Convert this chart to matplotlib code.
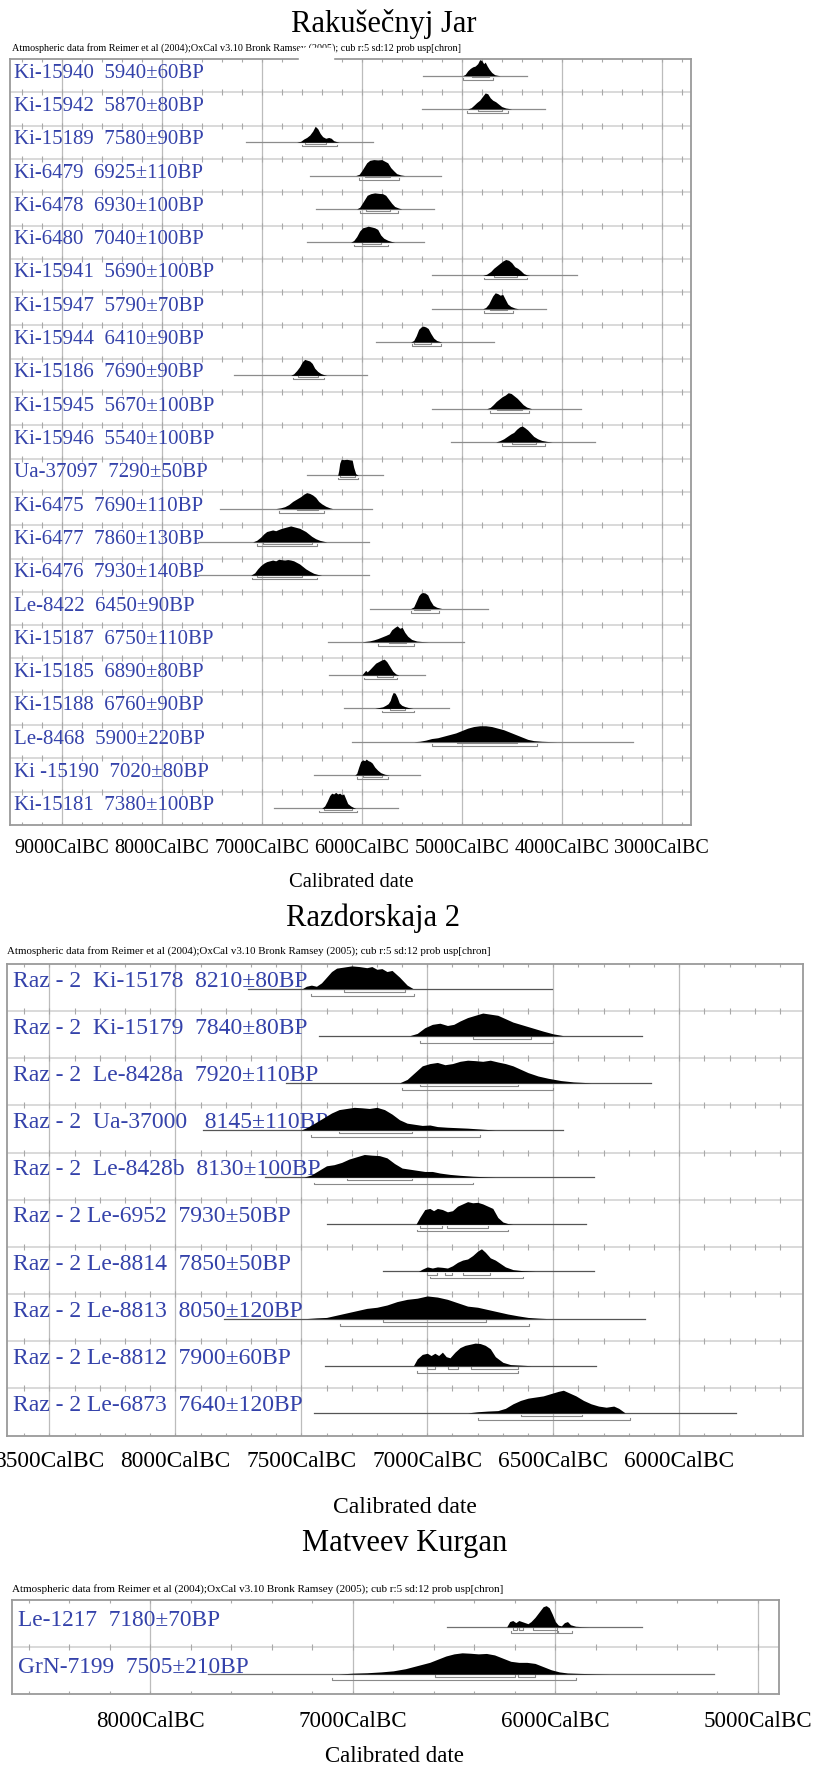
import numpy as np
import matplotlib
matplotlib.use("Agg")
import matplotlib.pyplot as plt
from matplotlib.transforms import blended_transform_factory
from matplotlib.patches import Rectangle

plt.rcParams['font.family'] = ['Liberation Serif', 'DejaVu Serif']

W, H = 816, 1767
BLUE = '#3442aa'

ATMO = ("Atmospheric data from Reimer et al (2004);OxCal v3.10 Bronk Ramsey (2005); "
        "cub r:5 sd:12 prob usp[chron]")

# ---------------- Rakusecnyj Jar ----------------
rak_labels = ["Ki-15940  5940±60BP", "Ki-15942  5870±80BP", "Ki-15189  7580±90BP",
              "Ki-6479  6925±110BP", "Ki-6478  6930±100BP", "Ki-6480  7040±100BP",
              "Ki-15941  5690±100BP", "Ki-15947  5790±70BP", "Ki-15944  6410±90BP",
              "Ki-15186  7690±90BP", "Ki-15945  5670±100BP", "Ki-15946  5540±100BP",
              "Ua-37097  7290±50BP", "Ki-6475  7690±110BP", "Ki-6477  7860±130BP",
              "Ki-6476  7930±140BP", "Le-8422  6450±90BP", "Ki-15187  6750±110BP",
              "Ki-15185  6890±80BP", "Ki-15188  6760±90BP", "Le-8468  5900±220BP",
              "Ki -15190  7020±80BP", "Ki-15181  7380±100BP"]
# calendar years BC of the grey range line
rak_range = [(5390, 4350), (5400, 4167), (7157, 5884), (6517, 5210), (6460, 5280),
             (6550, 5380), (5300, 3850), (5300, 4160), (5860, 4680), (7280, 5950),
             (5300, 3810), (5110, 3670), (6550, 5790), (7420, 5900), (7640, 5930),
             (7640, 5930), (5920, 4740), (6337, 4977), (6327, 5367), (6179, 5123),
             (6097, 3287), (6480, 5417), (6880, 5640)]
# probability outlines: (year BC, relative height)
rak_shapes = [
    [(4990, 0), (4965, .08), (4940, .3), (4915, .45), (4890, .55), (4865, .6), (4840, .75), (4820, 1), (4800, .95), (4780, .75), (4765, .85), (4745, .6), (4725, .4), (4700, .2), (4670, .06), (4640, .02), (4617, 0)],
    [(4940, 0), (4905, .08), (4875, .25), (4850, .4), (4820, .55), (4790, .8), (4765, 1), (4740, .95), (4715, .7), (4690, .55), (4660, .45), (4630, .3), (4600, .15), (4560, .06), (4500, 0)],
    [(6650, 0), (6610, .06), (6580, .2), (6550, .3), (6520, .45), (6490, .7), (6465, 1), (6440, .85), (6415, .55), (6390, .35), (6360, .25), (6330, .3), (6305, .25), (6280, .1), (6250, .04), (6224, 0)],
    [(6060, 0), (6025, .08), (6000, .3), (5975, .55), (5950, .8), (5920, .95), (5880, 1), (5840, .98), (5800, 1), (5770, .9), (5740, .8), (5710, .5), (5680, .3), (5650, .12), (5610, .04), (5570, 0)],
    [(6050, 0), (6020, .1), (5995, .35), (5970, .6), (5945, .85), (5910, .95), (5870, 1), (5830, .97), (5790, .95), (5760, .85), (5730, .6), (5700, .35), (5670, .15), (5630, .05), (5600, 0)],
    [(6110, 0), (6080, .1), (6050, .35), (6020, .7), (5990, .9), (5960, .95), (5935, 1), (5900, .95), (5870, .9), (5840, .8), (5810, .45), (5780, .25), (5740, .12), (5700, .04), (5670, 0)],
    [(4790, 0), (4750, .08), (4710, .25), (4680, .45), (4650, .6), (4620, .75), (4590, .9), (4560, 1), (4530, .95), (4500, .8), (4470, .55), (4440, .45), (4410, .3), (4380, .12), (4350, .04), (4320, 0)],
    [(4790, 0), (4760, .08), (4730, .3), (4710, .55), (4690, .8), (4665, 1), (4640, .95), (4615, .85), (4590, .9), (4565, .6), (4540, .3), (4510, .15), (4470, .05), (4433, 0)],
    [(5510, 0), (5480, .1), (5455, .4), (5430, .8), (5405, .95), (5385, 1), (5360, .95), (5335, .85), (5310, .55), (5280, .25), (5250, .1), (5220, .04), (5199, 0)],
    [(6710, 0), (6680, .1), (6650, .3), (6620, .55), (6595, .85), (6570, 1), (6545, .95), (6520, .9), (6495, .75), (6470, .45), (6440, .25), (6410, .12), (6380, .05), (6350, 0)],
    [(4750, 0), (4715, .08), (4685, .25), (4655, .45), (4625, .6), (4595, .75), (4565, .85), (4535, 1), (4505, .95), (4475, .8), (4445, .65), (4415, .45), (4385, .25), (4350, .1), (4300, 0)],
    [(4660, 0), (4620, .08), (4580, .2), (4545, .35), (4510, .5), (4480, .6), (4450, .8), (4420, .95), (4395, 1), (4370, .9), (4340, .75), (4310, .55), (4280, .35), (4240, .2), (4200, .1), (4150, .04), (4095, 0)],
    [(6240, 0), (6230, .3), (6220, .75), (6205, 1), (6180, .98), (6150, 1), (6120, .97), (6095, .95), (6080, .5), (6060, .1), (6040, .02), (6033, 0)],
    [(6860, 0), (6810, .05), (6770, .12), (6730, .25), (6690, .45), (6650, .6), (6610, .75), (6580, .9), (6550, 1), (6520, .95), (6490, .85), (6460, .7), (6430, .45), (6400, .3), (6360, .15), (6320, .05), (6290, 0)],
    [(7090, 0), (7050, .1), (7010, .3), (6980, .5), (6950, .65), (6920, .7), (6890, .75), (6860, .7), (6830, .78), (6800, .85), (6770, .9), (6740, .95), (6710, 1), (6680, .95), (6650, .9), (6620, .85), (6590, .75), (6560, .65), (6530, .5), (6500, .35), (6460, .2), (6420, .1), (6380, .04), (6349, 0)],
    [(7110, 0), (7070, .15), (7040, .4), (7010, .6), (6980, .75), (6950, .85), (6920, .9), (6890, .95), (6860, .9), (6830, 1), (6800, .97), (6770, .95), (6740, .98), (6710, .95), (6680, .9), (6650, .8), (6620, .7), (6590, .55), (6560, .4), (6520, .25), (6480, .12), (6440, .05), (6400, 0)],
    [(5510, 0), (5480, .1), (5455, .45), (5430, .8), (5410, .95), (5390, 1), (5365, .97), (5340, .85), (5315, .5), (5285, .2), (5250, .08), (5220, .03), (5199, 0)],
    [(6000, 0), (5960, .03), (5920, .06), (5880, .12), (5840, .2), (5800, .3), (5760, .4), (5725, .5), (5700, .75), (5670, .9), (5645, 1), (5620, .85), (5595, .9), (5570, .6), (5540, .35), (5500, .15), (5450, .05), (5400, .02), (5331, 0)],
    [(6000, 0), (5980, .15), (5960, .3), (5945, .2), (5920, .35), (5890, .55), (5860, .75), (5830, .85), (5800, .95), (5775, 1), (5750, .85), (5720, .55), (5690, .25), (5660, .08), (5627, 0)],
    [(5870, 0), (5830, .05), (5790, .1), (5760, .2), (5735, .3), (5715, .5), (5700, .8), (5685, 1), (5665, .95), (5645, .7), (5625, .35), (5600, .2), (5570, .12), (5530, .05), (5487, 0)],
    [(5480, 0), (5420, .03), (5360, .1), (5300, .2), (5240, .25), (5180, .35), (5120, .45), (5060, .55), (5000, .7), (4940, .85), (4880, .95), (4820, 1), (4760, 1), (4700, .95), (4640, .85), (4580, .75), (4520, .6), (4460, .45), (4400, .3), (4340, .15), (4280, .07), (4200, .03), (4120, .01), (4047, 0)],
    [(6070, 0), (6050, .1), (6030, .5), (6010, .85), (5990, .95), (5970, .9), (5955, 1), (5935, .9), (5915, .85), (5895, .75), (5870, .5), (5840, .3), (5810, .15), (5770, .05), (5721, 0)],
    [(6400, 0), (6370, .15), (6345, .45), (6320, .8), (6300, .95), (6280, .9), (6260, 1), (6240, .9), (6220, .95), (6200, .85), (6180, .9), (6160, .6), (6140, .3), (6110, .15), (6080, .05), (6060, 0)],
]
rak_sig1 = [[(4900, 4724)], [(4834, 4600)], [(6567, 6357)], [(5970, 5720)], [(5960, 5720)],
            [(6000, 5810)], [(4680, 4450)], [(4720, 4550)], [(5480, 5310)], [(6640, 6440)],
            [(4650, 4400)], [(4500, 4260)], [(6220, 6070)], [(6650, 6440)], [(6990, 6500)],
            [(7050, 6600)], [(5480, 5320)], [(5730, 5560)], [(5850, 5690)], [(5720, 5570)],
            [(5050, 4450)], [(5990, 5800)], [(6380, 6100)]]
rak_sig2 = [[(4990, 4683)], [(4944, 4534)], [(6600, 6243)], [(6030, 5630)], [(6020, 5640)],
            [(6080, 5740)], [(4780, 4350)], [(4780, 4490)], [(5500, 5210)], [(6690, 6380)],
            [(4720, 4330)], [(4600, 4170)], [(6240, 6040)], [(6830, 6380)], [(7050, 6450)],
            [(7100, 6450)], [(5510, 5230)], [(5840, 5480)], [(5980, 5650)], [(5800, 5480)],
            [(5300, 4250)], [(6050, 5740)], [(6430, 6050)]]

# ---------------- Razdorskaja 2 ----------------
raz_labels = ["Raz - 2  Ki-15178  8210±80BP", "Raz - 2  Ki-15179  7840±80BP",
              "Raz - 2  Le-8428a  7920±110BP", "Raz - 2  Ua-37000   8145±110BP",
              "Raz - 2  Le-8428b  8130±100BP", "Raz - 2 Le-6952  7930±50BP",
              "Raz - 2 Le-8814  7850±50BP", "Raz - 2 Le-8813  8050±120BP",
              "Raz - 2 Le-8812  7900±60BP", "Raz - 2 Le-6873  7640±120BP"]
raz_range = [(7710, 6506), (7430, 6146), (7560, 6111), (7890, 6460), (7645, 6339),
             (7399, 6370), (7175, 6339), (7807, 6137), (7408, 6330), (7449, 5775)]
raz_shapes = [
    [(7495, 0), (7480, .1), (7460, .15), (7440, .1), (7420, .25), (7400, .5), (7380, .75), (7360, .9), (7330, .95), (7300, 1), (7270, .97), (7240, .92), (7220, .97), (7200, .85), (7180, .88), (7160, .75), (7140, .8), (7110, .5), (7080, .15), (7057, 0)],
    [(7070, 0), (7040, .1), (7010, .35), (6980, .5), (6950, .55), (6920, .45), (6895, .5), (6870, .65), (6840, .8), (6810, .9), (6780, 1), (6750, .95), (6720, .9), (6690, .75), (6660, .6), (6630, .5), (6600, .4), (6570, .3), (6540, .2), (6500, .08), (6460, 0)],
    [(7110, 0), (7080, .15), (7050, .45), (7020, .75), (6990, .85), (6960, .9), (6930, .8), (6900, .85), (6870, .95), (6840, 1), (6810, .98), (6780, .95), (6750, 1), (6720, .92), (6690, .85), (6660, .75), (6630, .6), (6600, .45), (6560, .3), (6520, .2), (6470, .1), (6420, .04), (6350, 0)],
    [(7500, 0), (7470, .15), (7440, .35), (7410, .55), (7380, .75), (7350, .9), (7320, .95), (7290, 1), (7260, .98), (7230, .95), (7200, 1), (7170, .9), (7140, .7), (7110, .45), (7080, .3), (7050, .25), (7020, .2), (6990, .22), (6960, .15), (6920, .12), (6880, .1), (6840, .08), (6800, .05), (6760, .02), (6730, 0)],
    [(7490, 0), (7460, .1), (7430, .3), (7400, .5), (7370, .55), (7340, .65), (7310, .8), (7280, .9), (7250, 1), (7220, .97), (7190, .95), (7160, .85), (7130, .6), (7100, .4), (7070, .35), (7040, .3), (7010, .25), (6980, .25), (6950, .18), (6910, .12), (6870, .08), (6820, .04), (6760, .01), (6730, 0)],
    [(7045, 0), (7030, .3), (7010, .65), (6990, .7), (6975, .6), (6960, .7), (6940, .65), (6920, .55), (6900, .6), (6880, .8), (6860, .9), (6840, 1), (6820, .95), (6800, .97), (6780, .9), (6760, .8), (6740, .7), (6720, .3), (6700, .1), (6680, .03), (6660, 0)],
    [(7035, 0), (7020, .1), (7000, .2), (6980, .15), (6960, .2), (6940, .18), (6920, .15), (6900, .25), (6880, .4), (6860, .5), (6840, .55), (6820, .7), (6800, .9), (6785, 1), (6770, .85), (6750, .6), (6730, .5), (6710, .35), (6690, .2), (6660, .08), (6620, .03), (6571, 0)],
    [(7480, 0), (7440, .03), (7400, .05), (7360, .15), (7320, .25), (7280, .35), (7240, .45), (7200, .5), (7160, .6), (7120, .75), (7080, .85), (7040, .9), (7000, 1), (6960, .95), (6920, .85), (6880, .7), (6840, .55), (6800, .5), (6760, .4), (6720, .3), (6680, .2), (6640, .12), (6600, .05), (6560, .02), (6524, 0)],
    [(7055, 0), (7040, .3), (7020, .5), (7000, .55), (6985, .45), (6970, .55), (6955, .45), (6940, .6), (6925, .4), (6910, .35), (6890, .6), (6870, .8), (6850, .9), (6830, .95), (6810, 1), (6790, .98), (6770, .9), (6750, .75), (6730, .4), (6700, .15), (6670, .05), (6620, .02), (6588, 0)],
    [(6840, 0), (6800, .05), (6760, .08), (6720, .1), (6690, .2), (6660, .4), (6630, .55), (6600, .65), (6570, .7), (6540, .75), (6510, .85), (6480, .95), (6460, 1), (6440, .9), (6410, .75), (6380, .55), (6350, .4), (6320, .3), (6290, .25), (6260, .3), (6240, .2), (6215, 0)],
]
raz_sig1 = [[(7330, 7090)], [(6820, 6590)], [(7030, 6640)], [(7350, 7060)], [(7320, 7060)],
            [(7030, 6940), (6920, 6760)], [(7000, 6960), (6930, 6900), (6860, 6750)],
            [(7177, 6767)], [(7000, 6968), (6917, 6877), (6826, 6640)], [(6629, 6387)]]
raz_sig2 = [[(7463, 7053)], [(7030, 6500)], [(7100, 6500)], [(7460, 6790)], [(7450, 6820)],
            [(7040, 6680)], [(6990, 6620)], [(7348, 6596)], [(7042, 6640)], [(6798, 6196)]]

# ---------------- Matveev Kurgan ----------------
mat_labels = ["Le-1217  7180±70BP", "GrN-7199  7505±210BP"]
mat_range = [(6535, 5571), (7712, 5219)]
mat_shapes = [
    [(6240, 0), (6225, .25), (6210, .3), (6195, .2), (6180, .3), (6165, .25), (6150, .2), (6135, .15), (6120, .25), (6100, .45), (6080, .7), (6060, .95), (6045, 1), (6030, .9), (6015, .6), (6000, .25), (5985, .08), (5970, .05), (5955, .2), (5940, .25), (5925, .1), (5900, .03), (5870, .01), (5836, 0)],
    [(7070, 0), (7000, .04), (6930, .06), (6860, .1), (6800, .15), (6740, .25), (6700, .35), (6660, .45), (6620, .55), (6580, .7), (6540, .85), (6500, .95), (6460, 1), (6420, .98), (6380, .95), (6340, .97), (6300, .9), (6260, .75), (6220, .6), (6180, .55), (6140, .55), (6100, .5), (6060, .35), (6020, .2), (5980, .1), (5940, .05), (5880, .03), (5800, .01), (5733, 0)],
]
mat_sig1 = [[(6210, 6190), (6180, 6160), (6110, 5990)], [(6593, 6198), (6183, 6100)]]
mat_sig2 = [[(6220, 5990), (5985, 5920)], [(7103, 5900)]]


def fx(px):
    return px / W


def fy(py):
    return 1 - py / H


fig = plt.figure(figsize=(W / 100, H / 100), dpi=100)


def panel(box, xlim, majors, minor_step, labels, ranges, shapes, sig1, sig2,
          lab_size, lab_x, lab_y, base, hmax, b1, b2, tick_size, tick_base, line_col):
    l, t, r, b = box
    ax = fig.add_axes([fx(l), fy(b), fx(r) - fx(l), fy(t) - fy(b)])
    n = len(labels)
    ax.set_xlim(-xlim[0], -xlim[1])
    ax.set_ylim(n, 0)
    ax.set_xticks([])
    ax.set_yticks([])
    for s in ax.spines.values():
        s.set_color('#9a9a9a')
        s.set_linewidth(1.3)
    row_px = (b - t) / n
    for m in majors:
        ax.axvline(-m, color='#bcbcbc', lw=0.9, zorder=0)
    for i in range(1, n):
        ax.axhline(i, color='#d0d0d0', lw=1.1, zorder=0)
    lo = (int(xlim[1]) // minor_step + 1) * minor_step
    minors = np.arange(lo, xlim[0], minor_step)
    d = 3.0 / row_px
    for i in range(n + 1):
        ax.vlines(-minors, i - d, i + d, color='#a8a8a8', lw=0.8, zorder=1)
    cap = 1.6 / row_px
    for i in range(n):
        yb = i + base
        ax.text(lab_x, i + lab_y, labels[i], transform=ax.get_yaxis_transform(),
                color=BLUE, fontsize=lab_size, ha='left', va='baseline', zorder=2)
        xs = -np.array([p[0] for p in shapes[i]], dtype=float)
        hs = np.array([p[1] for p in shapes[i]], dtype=float)
        ax.plot([-ranges[i][0], -ranges[i][1]], [yb, yb], color=line_col, lw=0.9, zorder=3)
        ax.fill_between(xs, yb, yb - hmax * hs, color='black', lw=0, zorder=4)
        for sig, off in ((sig1[i], b1), (sig2[i], b2)):
            y = yb + off
            for a, e in sig:
                ax.plot([-a, -a, -e, -e], [y - cap, y, y, y - cap], color='#8a8a8a', lw=0.8, zorder=3)
    tr = blended_transform_factory(ax.transData, fig.transFigure)
    for m in majors:
        ax.text(-m, fy(tick_base), f"{m}CalBC", transform=tr, ha='center', va='baseline',
                fontsize=tick_size, color='black', clip_on=False)
    return ax


# top panel
fig.text(fx(384), fy(32), "Rakušečnyj Jar", ha='center', va='baseline', fontsize=22)
fig.text(fx(11.7), fy(50.7), ATMO, ha='left', va='baseline', fontsize=7.3)
panel((10, 59, 690.7, 825), (9517, 2710), [9000, 8000, 7000, 6000, 5000, 4000, 3000], 200,
      rak_labels, rak_range, rak_shapes, rak_sig1, rak_sig2,
      15, 0.006, 0.56, 0.5, 0.48, 0.05, 0.12, 14.5, 853, '#8c8c8c')
fig.text(fx(351), fy(887), "Calibrated date", ha='center', va='baseline', fontsize=14.8)
fig.add_artist(Rectangle((fx(299), fy(62)), fx(333) - fx(299), 14 / H,
                         transform=fig.transFigure, color='white', zorder=10))

# middle panel
fig.text(fx(373), fy(926), "Razdorskaja 2", ha='center', va='baseline', fontsize=22)
fig.text(fx(7.3), fy(954), ATMO, ha='left', va='baseline', fontsize=7.8)
panel((7.3, 964, 802.7, 1435.5), (8667, 5510), [8500, 8000, 7500, 7000, 6500, 6000], 100,
      raz_labels, raz_range, raz_shapes, raz_sig1, raz_sig2,
      17, 0.0068, 0.48, 0.52, 0.48, 0.07, 0.15, 16.8, 1467, '#555555')
fig.text(fx(405), fy(1513), "Calibrated date", ha='center', va='baseline', fontsize=17)

# bottom panel
fig.text(fx(405), fy(1551), "Matveev Kurgan", ha='center', va='baseline', fontsize=22)
fig.text(fx(11.5), fy(1591.7), ATMO, ha='left', va='baseline', fontsize=8.0)
panel((11.5, 1600, 778.6, 1694.3), (8684, 4898), [8000, 7000, 6000, 5000], 200,
      mat_labels, mat_range, mat_shapes, mat_sig1, mat_sig2,
      16.8, 0.0085, 0.55, 0.57, 0.45, 0.06, 0.12, 16.6, 1727, '#707070')
fig.text(fx(394.5), fy(1762), "Calibrated date", ha='center', va='baseline', fontsize=16.5)

fig.savefig("out.png", dpi=100)
